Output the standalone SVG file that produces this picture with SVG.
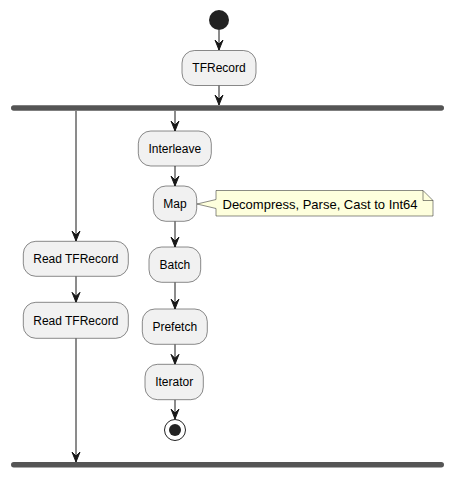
<svg xmlns="http://www.w3.org/2000/svg" width="454" height="477" viewBox="0 0 454 477">
<defs>
<style>
.box{fill:#F1F1F1;stroke:#181818;stroke-width:0.5}
.lbl{font-family:"Liberation Sans",Arial,sans-serif;font-size:12px;fill:#000;text-anchor:middle}
.nt{font-family:"Liberation Sans",Arial,sans-serif;font-size:13px;fill:#000}
.edge{stroke:#181818;stroke-width:1;fill:none}
.bar{fill:#555555;stroke:none}
</style>
<marker id="ah" markerWidth="12" markerHeight="10" viewBox="0 0 12 10" refX="10.5" refY="5" orient="auto" markerUnits="userSpaceOnUse">
<path d="M0.5,1 L10.5,5 L0.5,9 L4.5,5 Z" fill="#181818" stroke="#181818" stroke-width="1"/>
</marker>
</defs>
<rect width="454" height="477" fill="#FFFFFF"/>
<g id="connectors">
<line class="edge" x1="219" y1="30" x2="219" y2="50" marker-end="url(#ah)"/>
<line class="edge" x1="219" y1="85.5" x2="219" y2="105" marker-end="url(#ah)"/>
<line class="edge" x1="76" y1="111" x2="76" y2="241" marker-end="url(#ah)"/>
<line class="edge" x1="175" y1="111" x2="175" y2="131" marker-end="url(#ah)"/>
<line class="edge" x1="175" y1="166" x2="175" y2="186" marker-end="url(#ah)"/>
<line class="edge" x1="175" y1="221.3" x2="175" y2="247" marker-end="url(#ah)"/>
<line class="edge" x1="175" y1="282.3" x2="175" y2="309" marker-end="url(#ah)"/>
<line class="edge" x1="175" y1="344.3" x2="175" y2="364.3" marker-end="url(#ah)"/>
<line class="edge" x1="175" y1="399.7" x2="175" y2="419" marker-end="url(#ah)"/>
<line class="edge" x1="76" y1="276.3" x2="76" y2="302.3" marker-end="url(#ah)"/>
<line class="edge" x1="76" y1="338.3" x2="76" y2="462" marker-end="url(#ah)"/>
</g>
<g id="start"><circle cx="219" cy="20" r="10" fill="#222222"/></g>
<g id="tfrecord"><rect class="box" x="182" y="50.5" width="74" height="35" rx="12.5"/><text class="lbl" x="219" y="72.3">TFRecord</text></g>
<g id="fork"><rect class="bar" x="11" y="105.3" width="433" height="5.5" rx="2.75"/></g>
<g id="interleave"><rect class="box" x="138.3" y="131" width="73" height="35" rx="12.5"/><text class="lbl" x="174.8" y="152.8">Interleave</text></g>
<g id="map"><rect class="box" x="153.3" y="186" width="43.4" height="35.3" rx="12.5"/><text class="lbl" x="175" y="208">Map</text></g>
<g id="note">
<path d="M216,190.5 L423,190.5 L433,200.5 L433,216 L216,216 L216,208.5 L197,204 L216,199.5 Z" fill="#FEFFDD" stroke="#181818" stroke-width="0.5"/>
<path d="M423,190.5 L423,200.5 L433,200.5" fill="none" stroke="#181818" stroke-width="0.5"/>
<text class="nt" x="222.5" y="209">Decompress, Parse, Cast to Int64</text>
</g>
<g id="batch"><rect class="box" x="149" y="247" width="51.7" height="35.3" rx="12.5"/><text class="lbl" x="174.8" y="269">Batch</text></g>
<g id="prefetch"><rect class="box" x="142.3" y="309" width="65" height="35.3" rx="12.5"/><text class="lbl" x="174.8" y="331">Prefetch</text></g>
<g id="iterator"><rect class="box" x="145" y="364.3" width="58.3" height="35.4" rx="12.5"/><text class="lbl" x="174.2" y="386.3">Iterator</text></g>
<g id="read1"><rect class="box" x="23.3" y="241.3" width="105" height="35" rx="12.5"/><text class="lbl" x="75.8" y="263.1">Read TFRecord</text></g>
<g id="read2"><rect class="box" x="23.3" y="302.3" width="105" height="36" rx="12.5"/><text class="lbl" x="75.8" y="324.6">Read TFRecord</text></g>
<g id="stop"><circle cx="175" cy="430" r="10.5" fill="none" stroke="#222222" stroke-width="1"/><circle cx="175" cy="430" r="6" fill="#222222"/></g>
<g id="join"><rect class="bar" x="11" y="462" width="433" height="5.5" rx="2.75"/></g>
</svg>
